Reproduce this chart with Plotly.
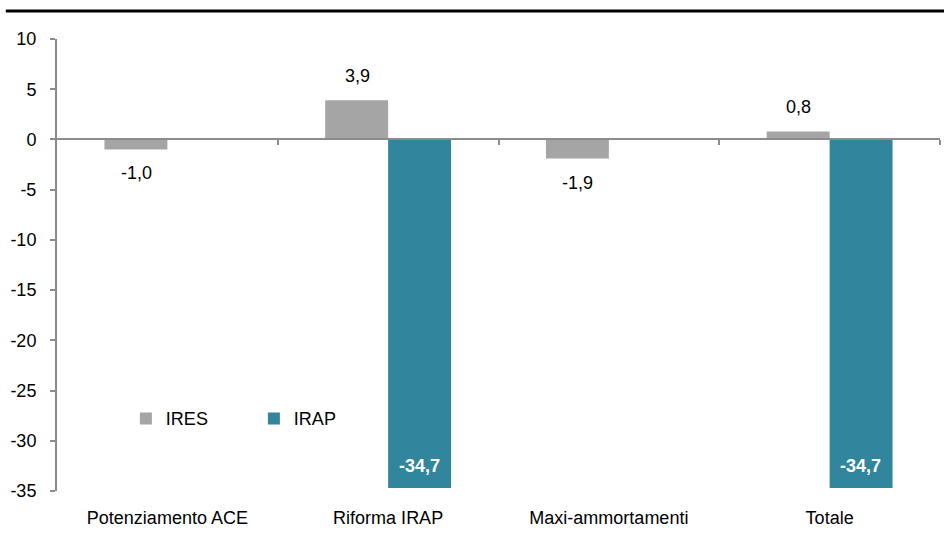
import plotly.graph_objects as go

categories = ["Potenziamento ACE", "Riforma IRAP", "Maxi-ammortamenti", "Totale"]
ires = [-1.0, 3.9, -1.9, 0.8]
irap = [None, -34.7, None, -34.7]
y_ticks = [10, 5, 0, -5, -10, -15, -20, -25, -30, -35]

FONT = "Liberation Sans, Arial, sans-serif"
FS = 18
GRAY = "#A5A5A5"
TEAL = "#31859C"
AXIS = "#8C8C8C"


def fmt(v):
    return f"{v:.1f}".replace(".", ",")


fig = go.Figure()
fig.add_trace(go.Bar(name="IRES", x=categories, y=ires,
                     marker=dict(color=GRAY, line=dict(width=0))))
fig.add_trace(go.Bar(name="IRAP", x=categories, y=irap,
                     marker=dict(color=TEAL, line=dict(width=0))))
# helper invisible trace for the x axis drawn at y=0
fig.add_trace(go.Scatter(x=[-0.5, 3.5], y=[0, 0], xaxis="x2", mode="lines",
                         line=dict(width=0), showlegend=False, hoverinfo="skip"))

annotations = []
for c, v in zip(categories, ires):
    annotations.append(dict(x=c, y=v, xref="x", yref="y", text=fmt(v), showarrow=False,
                            xshift=-31, yshift=24 if v >= 0 else -24,
                            font=dict(family=FONT, size=FS, color="black")))
for c, v in zip(categories, irap):
    if v is None:
        continue
    annotations.append(dict(x=c, y=v, xref="x", yref="y", text=f"<b>{fmt(v)}</b>",
                            showarrow=False, xshift=31, yshift=22,
                            font=dict(family=FONT, size=FS, color="white")))

fig.update_layout(
    width=944, height=540,
    margin=dict(l=57, r=4, t=39, b=49),
    paper_bgcolor="white", plot_bgcolor="white",
    font=dict(family=FONT, size=FS, color="black"),
    barmode="group", bargap=0.43, bargroupgap=0,
    showlegend=True,
    legend=dict(orientation="h", x=0.078, y=0.16, xanchor="left", yanchor="middle",
                font=dict(family=FONT, size=FS), entrywidth=83, traceorder="normal",
                bgcolor="rgba(0,0,0,0)", itemwidth=30),
    xaxis=dict(type="category", range=[-0.5, 3.5], showline=False, ticks="",
               showgrid=False, zeroline=False, tickfont=dict(family=FONT, size=FS),
               ticklabelstandoff=14),
    xaxis2=dict(overlaying="x", anchor="free", position=35 / 45, range=[-0.5, 3.5],
                showline=True, linecolor=AXIS, linewidth=2, ticks="outside",
                tickcolor=AXIS, ticklen=5, tickwidth=2,
                tickvals=[0.5, 1.5, 2.5, 3.5], showticklabels=False,
                showgrid=False, zeroline=False),
    yaxis=dict(range=[-35, 10], tickvals=y_ticks, ticktext=[str(v) for v in y_ticks],
               showline=True, linecolor=AXIS, linewidth=2, ticks="outside",
               tickcolor=AXIS, ticklen=5, tickwidth=2, showgrid=False, zeroline=False,
               tickfont=dict(family=FONT, size=FS), ticklabelstandoff=10),
    annotations=annotations,
    shapes=[dict(type="line", xref="paper", yref="paper", x0=-0.058, x1=1.01,
                 y0=1.062, y1=1.062, line=dict(color="black", width=3))],
)

fig.write_html("out.html")
